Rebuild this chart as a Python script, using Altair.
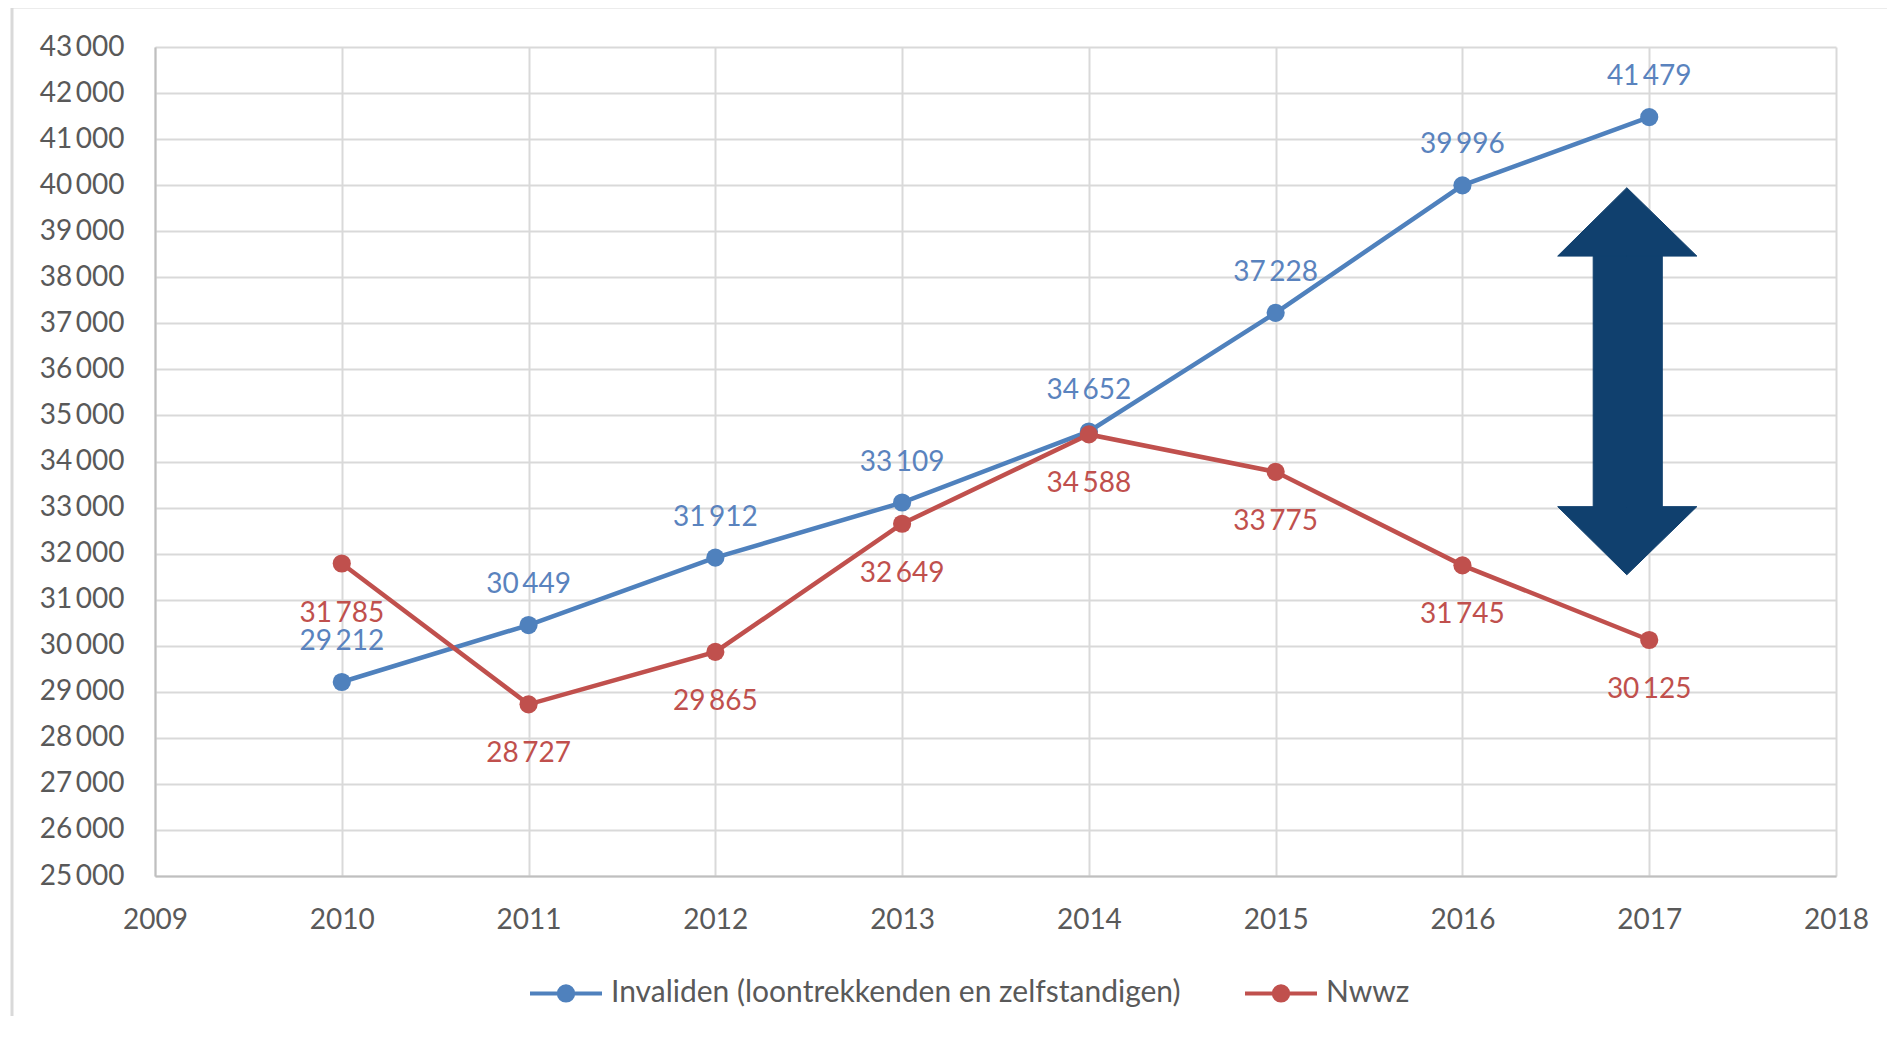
import altair as alt
import pandas as pd

# ---------------- data ----------------
years = [2010, 2011, 2012, 2013, 2014, 2015, 2016, 2017]
invaliden = [29212, 30449, 31912, 33109, 34652, 37228, 39996, 41479]
nwwz = [31785, 28727, 29865, 32649, 34588, 33775, 31745, 30125]
series_names = ["Invaliden (loontrekkenden en zelfstandigen)", "Nwwz"]
line_colors = ["#4F81BD", "#C0504D"]
label_colors = ["#5A83BE", "#C0504D"]
x_ticks = list(range(2009, 2019))
y_ticks = list(range(25000, 43001, 1000))

# double-headed arrow annotation (data coordinates)
arrow_head_x = [2016.51, 2016.88, 2017.255]           # left, tip, right
arrow_top_base = [38460, 38460, 38460]
arrow_top_tip = [38460, 39945, 38460]
arrow_bottom_base = [33020, 33020, 33020]
arrow_bottom_tip = [33020, 31540, 33020]
arrow_shaft_x = [2016.70, 2017.07]
arrow_shaft_y = [33020, 38460]

FONT = "Lato"
TEXT_GREY = "#595959"
ARROW = "#10406E"


def fmt(v):
    return f"{v:,}".replace(",", "\u2009")


rows = []
for name, vals in zip(series_names, [invaliden, nwwz]):
    for yr, v in zip(years, vals):
        rows.append({"year": yr, "value": v, "series": name, "label": fmt(v)})
df = pd.DataFrame(rows)

heads_df = pd.DataFrame({
    "hx": arrow_head_x * 2,
    "base": arrow_top_base + arrow_bottom_base,
    "tip": arrow_top_tip + arrow_bottom_tip,
    "part": ["top"] * 3 + ["bottom"] * 3,
})
shaft_df = pd.DataFrame({
    "x0": [arrow_shaft_x[0]], "x1": [arrow_shaft_x[1]],
    "y0": [arrow_shaft_y[0]], "y1": [arrow_shaft_y[1]],
})

x_scale = alt.Scale(domain=[2009, 2018], nice=False, zero=False)
y_scale = alt.Scale(domain=[25000, 43000], nice=False, zero=False)
color_scale = alt.Scale(domain=series_names, range=line_colors)

x_axis = alt.Axis(
    values=x_ticks, format="d", title=None, grid=True, gridColor="#D9D9D9",
    gridWidth=2, domainColor="#BFBFBF", domainWidth=2, ticks=False,
    labelFont=FONT, labelFontSize=28, labelColor=TEXT_GREY, labelPadding=30,
    labelFlush=False,
)
y_axis = alt.Axis(
    values=y_ticks, title=None, grid=True, gridColor="#D9D9D9", gridWidth=2,
    domainColor="#BFBFBF", domainWidth=2, ticks=False,
    labelFont=FONT, labelFontSize=28, labelColor=TEXT_GREY, labelPadding=31,
    labelExpr="replace(format(datum.value, ','), ',', '\u2009')",
    labelFlush=False,
)

# legend symbol: line with a filled-looking dot (concentric circles)
def circ(r):
    return f"M{r:.4f},0A{r:.4f},{r:.4f},0,1,1,{-r:.4f},0A{r:.4f},{r:.4f},0,1,1,{r:.4f},0"

legend_path = "M-1,0L1,0" + "".join(circ(r / 36.0) for r in [1.2, 3.2, 5.2, 7.2])

legend = alt.Legend(
    title=None, orient="none", legendX=373, legendY=908, direction="horizontal",
    symbolType=legend_path, symbolSize=5184, symbolStrokeWidth=4,
    labelFont=FONT, labelFontSize=30, labelColor=TEXT_GREY, labelOffset=7,
    columnPadding=56, padding=0, labelLimit=2000,
)

base = alt.Chart(df)

frame = alt.Chart(pd.DataFrame({"a": [0]})).mark_rect(
    filled=False, stroke="#D9D9D9", strokeWidth=3
).encode(
    x=alt.value(-143), x2=alt.value(1780), y=alt.value(-40), y2=alt.value(1000)
)

lines = base.mark_line(strokeWidth=4.5).encode(
    x=alt.X("year:Q", scale=x_scale, axis=x_axis),
    y=alt.Y("value:Q", scale=y_scale, axis=y_axis),
    color=alt.Color("series:N", scale=color_scale, legend=legend),
)

points = base.mark_point(filled=True, size=330, opacity=1).encode(
    x="year:Q", y="value:Q",
    color=alt.Color("series:N", scale=color_scale, legend=None),
)

lab_blue = base.transform_filter(
    alt.datum.series == series_names[0]
).mark_text(dy=-40, font=FONT, fontSize=28, color=label_colors[0]).encode(
    x="year:Q", y="value:Q", text="label:N"
)
lab_red = base.transform_filter(
    alt.datum.series == series_names[1]
).mark_text(dy=50, font=FONT, fontSize=28, color=label_colors[1]).encode(
    x="year:Q", y="value:Q", text="label:N"
)

heads = alt.Chart(heads_df).mark_area(
    color=ARROW, opacity=1, stroke=ARROW, strokeWidth=1
).encode(
    x=alt.X("hx:Q", scale=x_scale),
    y=alt.Y("tip:Q", scale=y_scale),
    y2="base:Q",
    detail="part:N",
)

shaft = alt.Chart(shaft_df).mark_rect(
    color=ARROW, opacity=1, stroke=ARROW, strokeWidth=1
).encode(
    x=alt.X("x0:Q", scale=x_scale), x2="x1:Q",
    y=alt.Y("y0:Q", scale=y_scale), y2="y1:Q",
)

chart = alt.layer(frame, lines, points, lab_blue, lab_red, shaft, heads).properties(
    width=1681, height=829,
    autosize=alt.AutoSizeParams(type="none"),
    padding={"left": 147, "top": 39, "right": 51, "bottom": 140},
    background="white",
).configure_view(stroke=None)

chart.save("out.html", embed_options={"renderer": "svg", "actions": False})
